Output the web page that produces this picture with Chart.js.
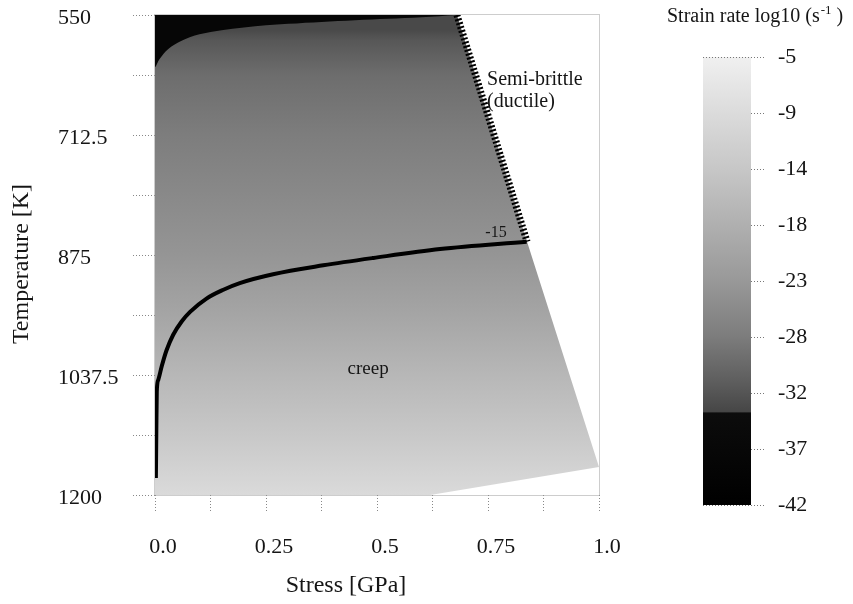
<!DOCTYPE html>
<html><head><meta charset="utf-8">
<script src="https://cdn.jsdelivr.net/npm/chart.js@4.4.1/dist/chart.umd.min.js"></script>
<style>
html,body{margin:0;padding:0;background:#fff;}
#wrap{position:relative;width:853px;height:604px;overflow:hidden;background:#fff;}
#main{position:absolute;left:0;top:0;}
#cbar{position:absolute;left:660px;top:0;}
</style></head><body>
<div id="wrap"><canvas id="main" width="645" height="604"></canvas><canvas id="cbar" width="193" height="604"></canvas></div>
<script>
// ---------- data ----------
const xTickValues = [0, 0.125, 0.25, 0.375, 0.5, 0.625, 0.75, 0.875, 1.0];
const xTickLabels = ['0.0', '', '0.25', '', '0.5', '', '0.75', '', '1.0'];
const yTickValues = [550, 631.25, 712.5, 793.75, 875, 956.25, 1037.5, 1118.75, 1200];
const yTickLabels = ['550', '', '712.5', '', '875', '', '1037.5', '', '1200'];

// strain-rate field (log10 s^-1) by temperature
const fieldTemps = [550, 570, 584, 631, 712, 794, 875, 956, 1037, 1119, 1200];
const fieldRates = [-34, -34, -32.5, -30, -28, -26, -24, -21, -17.5, -14, -10];
// outline of the creep field
const fieldEdgeStress = [0, 0.68, 0.838, 1.0, 0.62, 0];
const fieldEdgeTemp = [550, 550, 857, 1162, 1200, 1200];
// region below the colour scale (black)
const lowRateStress = [0, 0, 0.01, 0.03, 0.06, 0.1, 0.2, 0.3, 0.45, 0.6, 0.68];
const lowRateTemp = [550, 620, 610, 596, 585, 576, 567, 562, 557, 553, 550];
// -15 contour
const contourStress = [0.002, 0.003, 0.004, 0.0074, 0.015, 0.026, 0.041, 0.060, 0.079, 0.116, 0.154, 0.191, 0.266, 0.379, 0.492, 0.642, 0.837];
const contourTemp = [1177, 1112, 1060, 1044, 1026, 1004, 983, 965, 952, 934, 922, 913, 901, 889, 879, 867, 857];
// semi-brittle boundary
const brittleStress = [0.68, 0.838];
const brittleTemp = [550, 857];

// colour scale
const cmapValues = [-42, -34.4, -34.3, -32, -28, -23, -18, -14, -9, -5];
const cmapGrays = [0, 12, 70, 92, 125, 155, 180, 200, 222, 240];
const cbMin = -42, cbMax = -5;
const cbTickLabels = ['-42', '-37', '-32', '-28', '-23', '-18', '-14', '-9', '-5'];

// text notes (data coordinates)
const notes = [
  {text: 'Semi-brittle', s: 0.748, t: 638, size: 20, align: 'left'},
  {text: '(ductile)', s: 0.748, t: 667, size: 20, align: 'left'},
  {text: '-15', s: 0.768, t: 845, size: 16, align: 'center'},
  {text: 'creep', s: 0.48, t: 1029, size: 19, align: 'center'}
];

const FONT = 'Liberation Serif';
const TXT = '#151515';

function grayFor(v) {
  if (v <= cmapValues[0]) return cmapGrays[0];
  for (let i = 1; i < cmapValues.length; i++) {
    if (v <= cmapValues[i]) {
      const f = (v - cmapValues[i - 1]) / (cmapValues[i] - cmapValues[i - 1]);
      return cmapGrays[i - 1] + f * (cmapGrays[i] - cmapGrays[i - 1]);
    }
  }
  return cmapGrays[cmapGrays.length - 1];
}
function grayCss(v) { const g = Math.round(grayFor(v)); return `rgb(${g},${g},${g})`; }

function pts(xs, ys) { return xs.map((x, i) => ({x: x, y: ys[i]})); }

function fieldFill(context) {
  const chart = context.chart;
  const {ctx, chartArea, scales} = chart;
  if (!chartArea || !scales.y) return 'rgb(150,150,150)';
  const y = scales.y;
  const y0 = y.getPixelForValue(fieldTemps[0]);
  const y1 = y.getPixelForValue(fieldTemps[fieldTemps.length - 1]);
  const g = ctx.createLinearGradient(0, y0, 0, y1);
  fieldTemps.forEach((t, i) => {
    g.addColorStop((y.getPixelForValue(t) - y0) / (y1 - y0), grayCss(fieldRates[i]));
  });
  return g;
}

const mainDecor = {
  id: 'mainDecor',
  afterDatasetsDraw(chart) {
    const {ctx, chartArea: a, scales: {x, y}} = chart;
    ctx.save();
    ctx.strokeStyle = '#9a9a9a';
    ctx.lineWidth = 1;
    ctx.setLineDash([1, 1]);
    ctx.strokeRect(a.left - 0.5, a.top - 0.5, a.width + 1, a.height + 1);
    ctx.setLineDash([]);
    ctx.fillStyle = TXT;
    ctx.textBaseline = 'middle';
    notes.forEach(n => {
      ctx.font = `${n.size}px "${FONT}"`;
      ctx.textAlign = n.align;
      ctx.fillText(n.text, x.getPixelForValue(n.s), y.getPixelForValue(n.t));
    });
    ctx.restore();
  },
  afterDraw(chart) {
    const {ctx, chartArea: a} = chart;
    ctx.save();
    ctx.fillStyle = TXT;
    ctx.font = `24px "${FONT}"`;
    ctx.textAlign = 'center';
    ctx.textBaseline = 'middle';
    ctx.fillText('Stress [GPa]', (a.left + a.right) / 2 - 31, 586);
    ctx.translate(22, (a.top + a.bottom) / 2 + 9);
    ctx.rotate(-Math.PI / 2);
    ctx.fillText('Temperature [K]', 0, 0);
    ctx.restore();
  }
};

new Chart(document.getElementById('main'), {
  type: 'line',
  data: {
    datasets: [
      {label: 'creep field', data: pts(fieldEdgeStress, fieldEdgeTemp), fill: 'shape',
       backgroundColor: fieldFill, borderWidth: 0, pointRadius: 0, tension: 0, order: 5},
      {label: 'below scale', data: pts(lowRateStress, lowRateTemp), fill: 'shape',
       backgroundColor: '#060606', borderWidth: 0, pointRadius: 0, tension: 0.35, order: 4},
      {label: 'semi-brittle boundary', data: pts(brittleStress, brittleTemp), fill: false,
       borderColor: '#000', borderWidth: 7, borderDash: [2, 2], borderCapStyle: 'butt',
       pointRadius: 0, tension: 0, order: 2},
      {label: '-15', data: pts(contourStress, contourTemp), fill: false,
       borderColor: '#000', borderWidth: 4, pointRadius: 0, cubicInterpolationMode: 'monotone', order: 1}
    ]
  },
  options: {
    responsive: false, animation: false, devicePixelRatio: 1,
    layout: {padding: {left: 58, top: 15, right: 46, bottom: 0}},
    plugins: {legend: {display: false}, tooltip: {enabled: false}},
    scales: {
      x: {
        type: 'linear', min: 0, max: 1,
        afterBuildTicks: s => { s.ticks = xTickValues.map(v => ({value: v})); },
        afterFit: s => { s.height = 109; },
        ticks: {callback: (v, i) => xTickLabels[i], font: {family: FONT, size: 22}, color: TXT,
                padding: 22, labelOffset: 8, maxRotation: 0, autoSkip: false},
        grid: {drawOnChartArea: false, drawTicks: true, tickLength: 17, tickColor: '#888',
               tickBorderDash: [1, 2], tickWidth: 1},
        border: {display: false}
      },
      y: {
        type: 'linear', min: 550, max: 1200, reverse: true,
        afterBuildTicks: s => { s.ticks = yTickValues.map(v => ({value: v})); },
        afterFit: s => { s.width = 97; },
        ticks: {callback: (v, i) => yTickLabels[i], font: {family: FONT, size: 22}, color: TXT,
                crossAlign: 'far', padding: 0, labelOffset: 3, autoSkip: false},
        grid: {drawOnChartArea: false, drawTicks: true, tickLength: 22, tickColor: '#888',
               tickBorderDash: [1, 2], tickWidth: 1},
        border: {display: false}
      }
    }
  },
  plugins: [mainDecor]
});

// ---------- colour bar ----------
function cbFill(context) {
  const chart = context.chart;
  const {ctx, chartArea, scales} = chart;
  if (!chartArea || !scales.y) return '#888';
  const y = scales.y;
  const yb = y.getPixelForValue(cbMin), yt = y.getPixelForValue(cbMax);
  const g = ctx.createLinearGradient(0, yb, 0, yt);
  cmapValues.forEach(v => {
    g.addColorStop((v - cbMin) / (cbMax - cbMin), grayCss(v));
  });
  return g;
}

const cbDecor = {
  id: 'cbDecor',
  afterDraw(chart) {
    const ctx = chart.ctx;
    ctx.save();
    ctx.fillStyle = TXT;
    ctx.textBaseline = 'alphabetic';
    ctx.textAlign = 'left';
    ctx.font = `20px "${FONT}"`;
    let x = 7;
    const base = 22;
    const t1 = 'Strain rate log10 (s';
    ctx.fillText(t1, x, base);
    x += ctx.measureText(t1).width;
    ctx.font = `13px "${FONT}"`;
    ctx.fillText('-1', x + 1, base - 8);
    x += ctx.measureText('-1').width + 1;
    ctx.font = `20px "${FONT}"`;
    ctx.fillText(' )', x, base);
    ctx.restore();
  }
};

new Chart(document.getElementById('cbar'), {
  type: 'bar',
  data: {labels: [''], datasets: [{data: [[cbMin, cbMax]], backgroundColor: cbFill, borderWidth: 0,
          barPercentage: 1, categoryPercentage: 1}]},
  options: {
    responsive: false, animation: false, devicePixelRatio: 1,
    layout: {padding: {left: 43, top: 57, right: 0, bottom: 99}},
    plugins: {legend: {display: false}, tooltip: {enabled: false}},
    scales: {
      x: {display: false},
      y: {
        position: 'right', min: cbMin, max: cbMax,
        afterBuildTicks: s => { s.ticks = cbTickLabels.map((l, i) => ({value: cbMin + i * (cbMax - cbMin) / (cbTickLabels.length - 1)})); },
        afterFit: s => { s.width = 102; },
        ticks: {callback: (v, i) => cbTickLabels[i], font: {family: FONT, size: 22}, color: TXT, padding: 13, autoSkip: false},
        grid: {z: 1, drawOnChartArea: true, tickLength: 14, tickColor: '#777', tickBorderDash: [1, 2],
               color: c => (c.index === 0 || c.index === cbTickLabels.length - 1) ? '#777' : 'rgba(0,0,0,0)'},
        border: {display: false, dash: [1, 2]}
      }
    }
  },
  plugins: [cbDecor]
});
</script>
</body></html>
